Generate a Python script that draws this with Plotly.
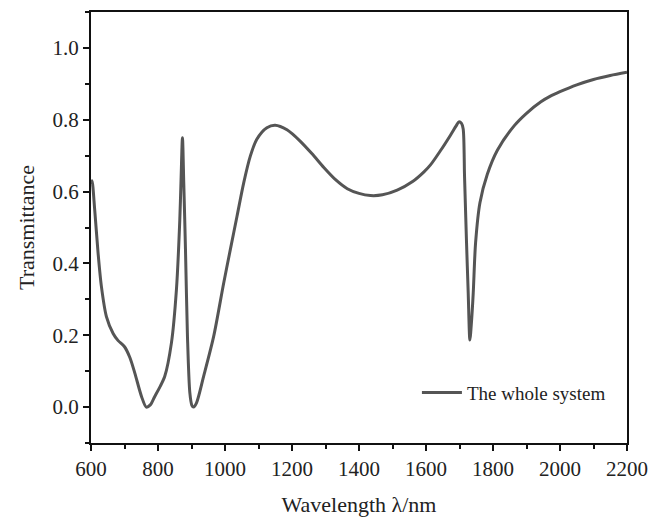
import plotly.graph_objects as go

wavelength = [600, 603, 611, 621, 631, 646, 666, 681, 700, 716, 731, 751, 765, 777, 790, 805, 820, 840, 855, 865, 869, 873,
              877, 882, 888, 895, 901, 906, 915, 936, 966, 996, 1016, 1036, 1056, 1076, 1095, 1125, 1150,
              1185, 1225, 1260, 1295, 1330, 1365, 1400, 1434, 1470, 1514, 1560, 1594, 1614, 1644, 1673, 1690, 1698,
              1706, 1711, 1715, 1721, 1726, 1731, 1736, 1741, 1748, 1761, 1783, 1813, 1863, 1900, 1943, 1970,
              2000, 2050, 2100, 2150, 2200]
transmittance = [0.62, 0.63, 0.55, 0.43, 0.336, 0.252, 0.205, 0.185, 0.168, 0.138, 0.094, 0.029, 0.0, 0.006, 0.029,
                 0.055, 0.085, 0.178, 0.327, 0.52, 0.64, 0.75, 0.62, 0.44, 0.196, 0.04, 0.005, 0.0, 0.012,
                 0.085, 0.196, 0.345, 0.439, 0.532, 0.625, 0.70, 0.746, 0.778, 0.785, 0.772, 0.74, 0.705,
                 0.667, 0.633, 0.608, 0.595, 0.589, 0.591, 0.604, 0.628, 0.655, 0.675, 0.715, 0.757, 0.783, 0.794,
                 0.79, 0.774, 0.643, 0.457, 0.318, 0.187, 0.24, 0.318, 0.457, 0.569, 0.648, 0.715, 0.783,
                 0.818, 0.850, 0.865, 0.878, 0.897, 0.912, 0.923, 0.932]

x_ticks = [600, 800, 1000, 1200, 1400, 1600, 1800, 2000, 2200]
y_ticks = [0.0, 0.2, 0.4, 0.6, 0.8, 1.0]
y_tick_labels = ["0.0", "0.2", "0.4", "0.6", "0.8", "1.0"]

font_family = "Liberation Serif, Times New Roman, serif"

fig = go.Figure()
fig.add_trace(go.Scatter(
    x=wavelength, y=transmittance, mode="lines", name="The whole system",
    line=dict(color="#555555", width=3, shape="spline", smoothing=0.8),
))

axis_common = dict(
    showline=True, linecolor="#111111", linewidth=2, mirror=True,
    ticks="outside", ticklen=6, tickwidth=1.5, tickcolor="#111111",
    showgrid=False, zeroline=False, automargin=False,
    tickfont=dict(family=font_family, size=21, color="#222222"),
)

fig.update_xaxes(
    range=[600, 2200], tickvals=x_ticks,
    minor=dict(dtick=100, ticks="outside", ticklen=4, tickwidth=1.5, tickcolor="#111111"),
    title=dict(text="Wavelength λ/nm", font=dict(family=font_family, size=22, color="#222222"), standoff=16),
    **axis_common,
)
fig.update_yaxes(
    range=[-0.1, 1.1], tickvals=y_ticks, ticktext=y_tick_labels,
    minor=dict(dtick=0.1, tick0=0, ticks="outside", ticklen=4, tickwidth=1.5, tickcolor="#111111"),
    title=dict(text="Transmittance", font=dict(family=font_family, size=22, color="#222222"), standoff=12),
    **axis_common,
)

fig.update_layout(
    width=649, height=519,
    margin=dict(l=91, r=22, t=12, b=76),
    plot_bgcolor="white", paper_bgcolor="white",
    showlegend=True,
    legend=dict(
        x=0.97, y=0.117, xanchor="right", yanchor="middle",
        bgcolor="rgba(0,0,0,0)", borderwidth=0,
        font=dict(family=font_family, size=19, color="#222222"),
        itemwidth=40,
    ),
)

fig.write_html(
    "out.html",
    config={"displayModeBar": False},
    post_script="document.body.style.margin='0';document.body.style.overflow='hidden';",
)
